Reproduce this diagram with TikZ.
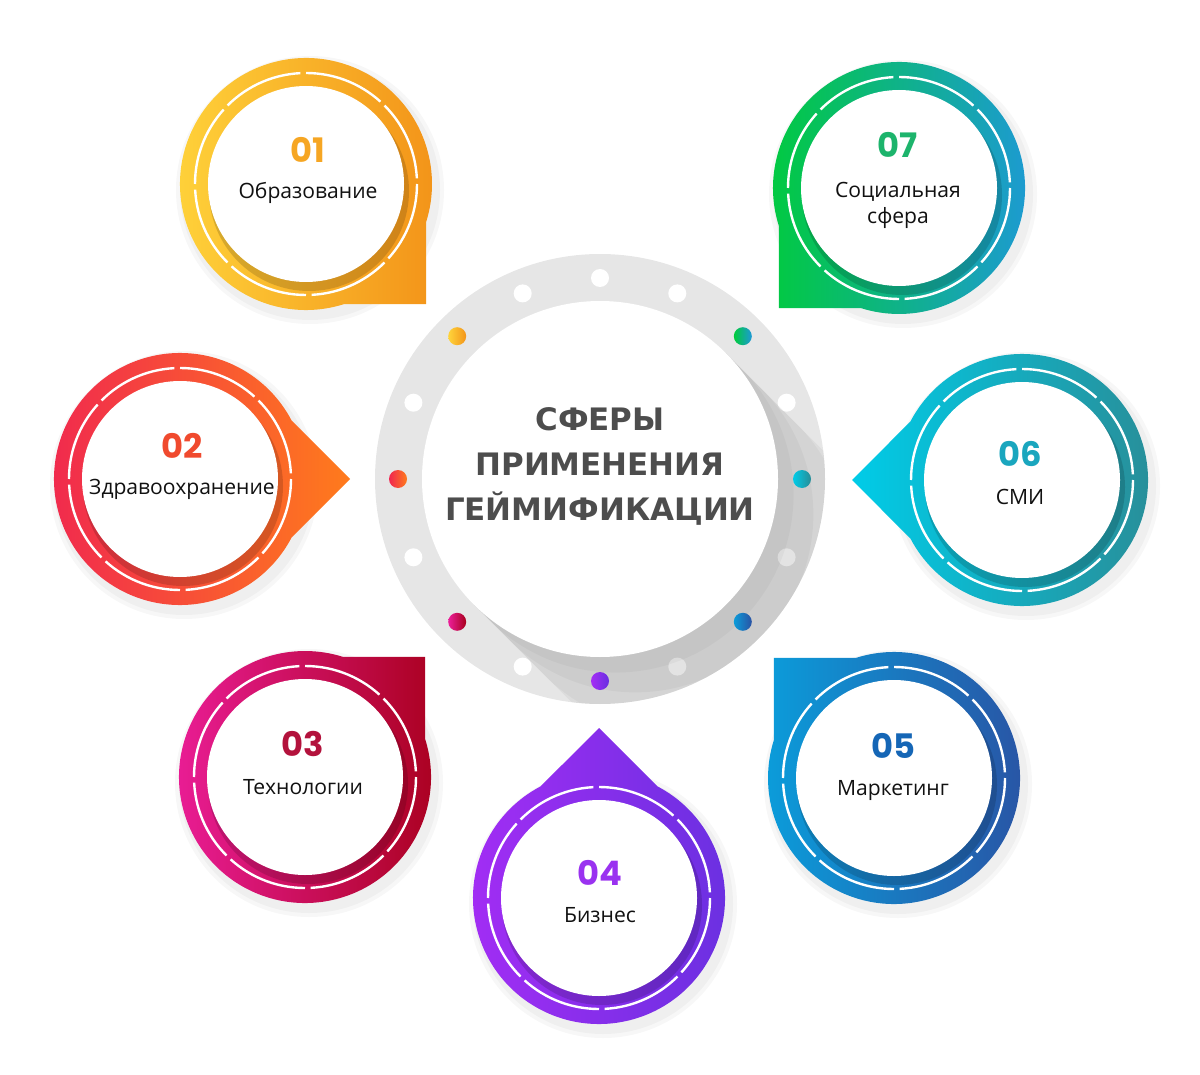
\documentclass[tikz,border=0pt]{standalone}
\usepackage{fontspec}
\setmainfont{Open Sans}
\newfontfamily\numfont{Poppins}
\newfontfamily\headfont{DejaVu Sans}
\usepackage{tikz}
\usepackage[dvipsnames]{xcolor}

\definecolor{ringgray}{HTML}{E6E6E6}
\definecolor{headtext}{HTML}{4D4D4D}
\definecolor{labtext}{HTML}{111111}
\definecolor{c1l}{HTML}{FFD43B}\definecolor{c1r}{HTML}{F39419}\definecolor{c1n}{HTML}{F6A623}
\definecolor{c2l}{HTML}{F02650}\definecolor{c2r}{HTML}{FF7B1C}\definecolor{c2n}{HTML}{F04A2E}
\definecolor{c3l}{HTML}{EC1E9A}\definecolor{c3r}{HTML}{A8001C}\definecolor{c3n}{HTML}{B3123C}
\definecolor{c4l}{HTML}{A52DF5}\definecolor{c4r}{HTML}{6830E0}\definecolor{c4n}{HTML}{9A32F0}
\definecolor{c5l}{HTML}{0B9CDA}\definecolor{c5r}{HTML}{2A52A3}\definecolor{c5n}{HTML}{1566B6}
\definecolor{c6l}{HTML}{00CCE8}\definecolor{c6r}{HTML}{2A8C96}\definecolor{c6n}{HTML}{1AA6BE}
\definecolor{c7l}{HTML}{00CC3A}\definecolor{c7r}{HTML}{1E98D8}\definecolor{c7n}{HTML}{1DB46C}

% #1 centre, #2 tail direction, #3 left colour, #4 right colour
\newcommand{\bubble}[4]{%
    \begin{scope}[shift={(#1)}]
        \fill[black, opacity=0.03] (4,6) circle (134);
        \fill[black, opacity=0.03] (4,6) circle (130);
        \shade[left color=#3, right color=#4] (#2-27.6:126) -- (#2:170) -- (#2+27.6:126)
            arc[start angle=#2+27.6, end angle=#2+332.4, radius=126] -- cycle;
        \fill[black, opacity=0.15] (3,7) circle (100);
        \draw[white, line width=1.7pt, dash pattern=on 58pt off 4pt] (0,0) circle (111);
        \fill[white] (0,0) circle (98);
    \end{scope}}

\begin{document}
\begin{tikzpicture}[x=0.025cm, y=-0.025cm,
        num/.style={font=\numfont\bfseries\fontsize{24}{28}\selectfont, anchor=base},
        lab/.style={font=\fontsize{15}{18.5}\selectfont, text=labtext, anchor=base},
        heading/.style={font=\headfont\bfseries\fontsize{22}{32}\selectfont, text=headtext, anchor=base}
    ]
        \useasboundingbox (0,0) rectangle (1200,1075);
        \coordinate (C) at (600,479);

        % centre ring
        \fill[ringgray] (C) circle (225);
        \begin{scope}[
            every node/.style={shape=circle,inner sep=0pt,minimum size=12.8pt,fill=white}
        ]
            \node (D2) at (786.6,557.3) {};
            \node (D4) at (677.3,666.6) {};
            \node (D6) at (522.7,666.6) {};
            \node (D8) at (413.4,557.3) {};
            \node (D10) at (413.4,402.7) {};
            \node (D12) at (522.7,293.4) {};
            \node (D13) at (600,278) {};
            \node (D14) at (677.3,293.4) {};
            \node (D16) at (786.6,402.7) {};
        \end{scope}
        \begin{scope}[shift={(C)}]
            \clip (0,0) circle (225);
            \fill[black, opacity=0.04] (-45:178) -- ++(45:300) arc[start angle=-45, end angle=135, radius=178] -- (135:178) -- cycle;
            \fill[black, opacity=0.035] (-45:178) -- ++(45:100) arc[start angle=-45, end angle=135, radius=178] -- (135:178) -- cycle;
            \fill[black, opacity=0.035] (-45:178) -- ++(45:50) arc[start angle=-45, end angle=135, radius=178] -- (135:178) -- cycle;
            \fill[black, opacity=0.03] (-45:178) -- ++(45:22) arc[start angle=-45, end angle=135, radius=178] -- (135:178) -- cycle;
        \end{scope}
        \begin{scope}[
            every node/.style={shape=circle,inner sep=0pt,minimum size=12.8pt}
        ]
            \node[left color=c6l, right color=c6r] (D1) at (802,479) {};
            \node[left color=c5l, right color=c5r] (D3) at (742.8,621.8) {};
            \node[left color=c4l, right color=c4r] (D5) at (600,681) {};
            \node[left color=c3l, right color=c3r] (D7) at (457.2,621.8) {};
            \node[left color=c2l, right color=c2r] (D9) at (398,479) {};
            \node[left color=c1l, right color=c1r] (D11) at (457.2,336.2) {};
            \node[left color=c7l, right color=c7r] (D15) at (742.8,336.2) {};
        \end{scope}
        \fill[white] (C) circle (178);

        \node[heading] (T1) at (600,430) {СФЕРЫ};
        \node[heading] (T2) at (600,475) {ПРИМЕНЕНИЯ};
        \node[heading] (T3) at (600,520) {ГЕЙМИФИКАЦИИ};

        % bubbles
        \bubble{306,184}{45}{c1l}{c1r}
        \bubble{180,479}{0}{c2l}{c2r}
        \bubble{305,777}{-45}{c3l}{c3r}
        \bubble{599,898}{-90}{c4l}{c4r}
        \bubble{894,778}{-135}{c5l}{c5r}
        \bubble{1022,480}{180}{c6l}{c6r}
        \bubble{899,188}{135}{c7l}{c7r}

        \node[num, text=c1n] (N1) at (308,163) {01};
        \node[lab] (L1) at (308,199) {Образование};
        \node[num, text=c2n] (N2) at (182,458) {02};
        \node[lab] (L2) at (182,494) {Здравоохранение};
        \node[num, text=c3n] (N3) at (303,756) {03};
        \node[lab] (L3) at (303,794) {Технологии};
        \node[num, text=c4n] (N4) at (600,885) {04};
        \node[lab] (L4) at (600,922) {Бизнес};
        \node[num, text=c5n] (N5) at (893,758) {05};
        \node[lab] (L5) at (893,795) {Маркетинг};
        \node[num, text=c6n] (N6) at (1020,466) {06};
        \node[lab] (L6) at (1020,504) {СМИ};
        \node[num, text=c7n] (N7) at (898,158) {07};
        \node[lab, align=center] (L7) at (898,224) {Социальная\\сфера};
\end{tikzpicture}
\end{document}
